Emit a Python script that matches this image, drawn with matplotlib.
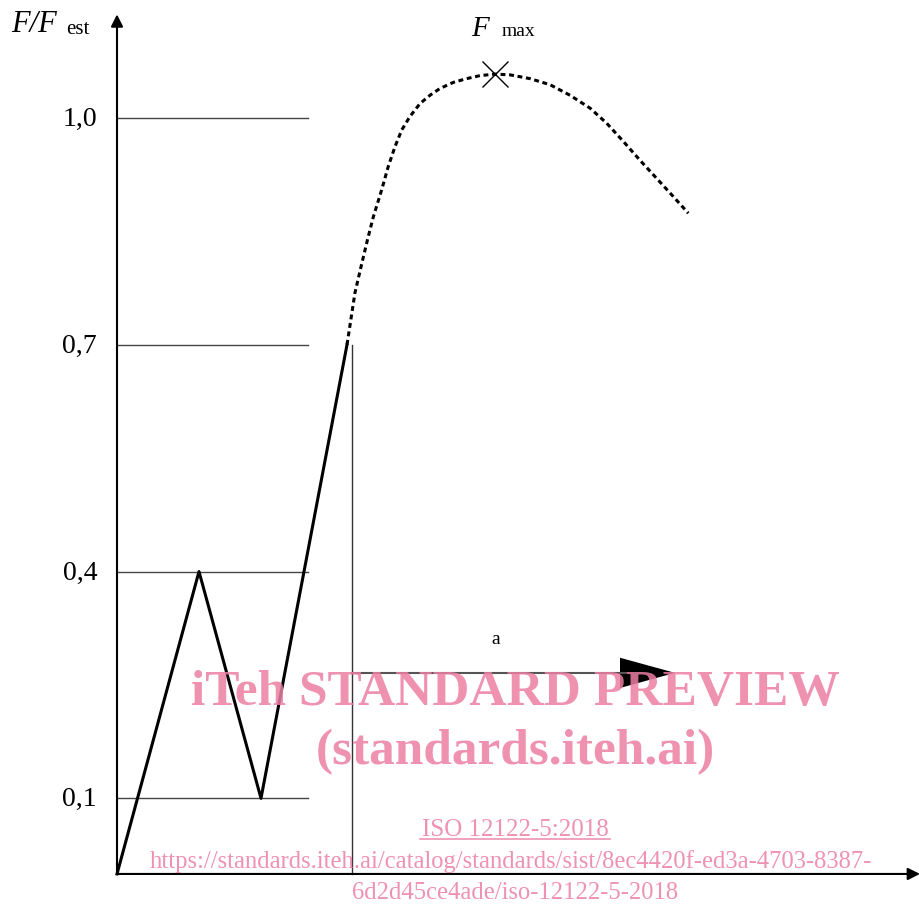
import matplotlib
matplotlib.use('Agg')
import matplotlib.pyplot as plt
from matplotlib.patches import FancyArrow

# load path, F/F_est against time (arbitrary units)
load_x = [0.0, 0.82, 1.44, 2.30]
load_y = [0.0, 0.40, 0.10, 0.70]

# estimated continuation up to failure (dotted)
cont_x = [2.30, 2.38, 2.44, 2.505, 2.563, 2.647, 2.713, 2.78, 2.847, 2.93,
          3.03, 3.13, 3.23, 3.363, 3.497, 3.63, 3.78, 3.93, 4.13, 4.33,
          4.53, 4.73, 4.897, 5.063, 5.23, 5.397, 5.563, 5.713]
cont_y = [0.700, 0.769, 0.803, 0.839, 0.869, 0.905, 0.936, 0.962, 0.984, 1.002,
          1.019, 1.030, 1.039, 1.047, 1.052, 1.056, 1.058, 1.057, 1.052, 1.044,
          1.030, 1.013, 0.993, 0.969, 0.944, 0.920, 0.896, 0.874]

fmax_x = 3.78
fmax_y = 1.058

levels = [0.1, 0.4, 0.7, 1.0]
level_labels = ['0,1', '0,4', '0,7', '1,0']

hold_x = 2.35
arrow_y = 0.266
arrow_end = 5.58

serif = 'Liberation Serif'

fig = plt.figure(figsize=(9.2, 9.11), dpi=100)
ax = fig.add_axes([0, 0, 1, 1])
ax.set_xlim(-1.17, 8.03)
ax.set_ylim(-0.049, 1.156)
ax.axis('off')

# axes with arrows
ax.annotate('', xy=(0, 1.137), xytext=(0, 0),
            arrowprops=dict(arrowstyle='-|>', color='black', lw=1.5,
                            mutation_scale=18, shrinkA=0, shrinkB=0))
ax.annotate('', xy=(8.03, 0), xytext=(0, 0),
            arrowprops=dict(arrowstyle='-|>', color='black', lw=1.5,
                            mutation_scale=18, shrinkA=0, shrinkB=0))

# level lines and labels
for lv, lab in zip(levels, level_labels):
    ax.plot([0, 1.91], [lv, lv], color='#444444', lw=1.0)
    ax.text(-0.20, lv - 0.002, lab, ha='right', va='center', fontsize=20,
            family=serif)

ax.text(-1.06, 1.123, 'F/F', ha='left', va='center', fontsize=22,
        family=serif, style='italic')
ax.text(-0.51, 1.117, 'est', ha='left', va='center', fontsize=15,
        family=serif)

# load curve
ax.plot(load_x, load_y, color='black', lw=2.2)
ax.plot(cont_x, cont_y, color='black', lw=2.2, linestyle=(0, (1.6, 1.2)))
ax.plot(fmax_x, fmax_y, marker='x', color='black', markersize=19,
        markeredgewidth=1.0)
ax.text(fmax_x - 0.24, 1.118, 'F', ha='left', va='center', fontsize=21,
        family=serif, style='italic')
ax.text(fmax_x + 0.07, 1.114, 'max', ha='left', va='center', fontsize=14,
        family=serif)

# hold line and duration arrow
ax.plot([hold_x, hold_x], [0, 0.70], color='#333333', lw=1.0)
ax.plot([hold_x, arrow_end - 0.5], [arrow_y, arrow_y], color='#555555', lw=1.5)
ax.add_patch(FancyArrow(arrow_end - 0.55, arrow_y, 0.55, 0, width=0.0,
                        head_width=0.040, head_length=0.55,
                        length_includes_head=True, color='black', lw=0))
ax.text(3.79, 0.310, 'a', ha='center', va='center', fontsize=14, family=serif)

# watermark
wm = dict(color='#ec7fa3', alpha=0.85, family=serif, ha='center', va='center')
ax.text(3.98, 0.240, 'iTeh STANDARD PREVIEW', fontsize=37, weight='bold', **wm)
ax.text(3.98, 0.161, '(standards.iteh.ai)', fontsize=37, weight='bold', **wm)
ax.text(3.98, 0.058, 'ISO 12122-5:2018', fontsize=18, **wm)
ax.plot([3.03, 4.93], [0.046, 0.046], color='#ec7fa3', alpha=0.85, lw=1.2)
ax.text(3.94, 0.016, 'https://standards.iteh.ai/catalog/standards/sist/8ec4420f-ed3a-4703-8387-',
        fontsize=17.7, **wm)
ax.text(3.98, -0.025, '6d2d45ce4ade/iso-12122-5-2018', fontsize=17.7, **wm)

fig.savefig('out.png', dpi=100)
